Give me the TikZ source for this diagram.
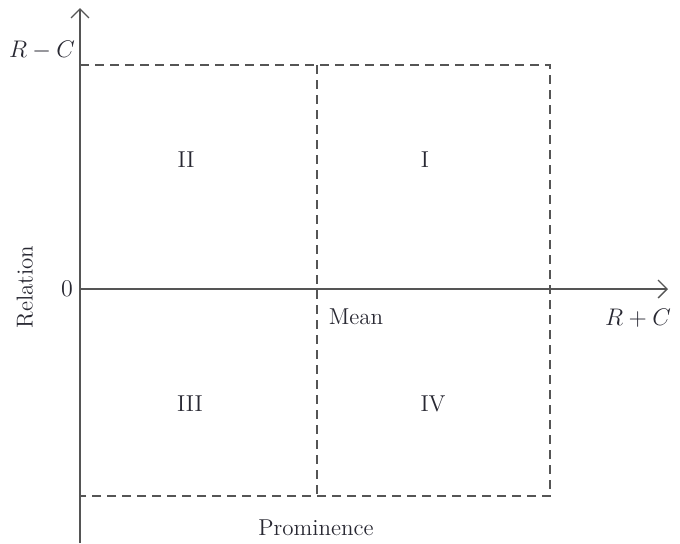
\documentclass[tikz,border=0pt]{standalone}
\usepackage{amsmath}
\usepackage{tikz}
\usetikzlibrary{arrows.meta}
\definecolor{axisgray}{RGB}{85,85,85}
\definecolor{textdark}{RGB}{40,40,50}

\begin{document}
\begin{tikzpicture}[x=0.5pt,y=-0.5pt,
  axis/.style={draw=axisgray, line width=0.65pt, -{Straight Barb[length=4.5pt,width=9pt]}},
  box/.style={draw=axisgray, line width=0.6pt, dash pattern=on 4.5pt off 3pt},
  lbl/.style={text=textdark, font=\fontsize{11.5}{13}\selectfont, inner sep=1pt}]
  \useasboundingbox (0,0) rectangle (680,543);

  % axes
  \coordinate (o) at (80,289);
  \coordinate (ybot) at (80,543);
  \coordinate (ytop) at (80,8);
  \coordinate (xend) at (668,289);
  \draw[axis] (ybot) -- (ytop);
  \draw[axis] (o) -- (xend);

  % quadrant box
  \coordinate (tl) at (80,65);
  \coordinate (tr) at (550,65);
  \coordinate (bl) at (80,496);
  \coordinate (br) at (550,496);
  \coordinate (mt) at (317,65);
  \coordinate (mb) at (317,496);
  \draw[box] (tl) -- (tr) -- (br) -- (bl);
  \draw[box] (mt) -- (mb);

  % labels
  \node[lbl] (rmc) at (42,50) {$R-C$};
  \node[lbl] (zero) at (67,289) {$0$};
  \node[lbl, rotate=90] (rel) at (25,287) {Relation};
  \node[lbl] (rpc) at (638,318) {$R+C$};
  \node[lbl] (mean) at (356,317) {Mean};
  \node[lbl] (prom) at (316,528) {Prominence};
  \foreach \name/\x/\y/\txt in {q1/425/160/I, q2/186/160/II, q3/190/404/III, q4/433/404/IV}
    \node[lbl] (\name) at (\x,\y) {\txt};
\end{tikzpicture}
\end{document}
